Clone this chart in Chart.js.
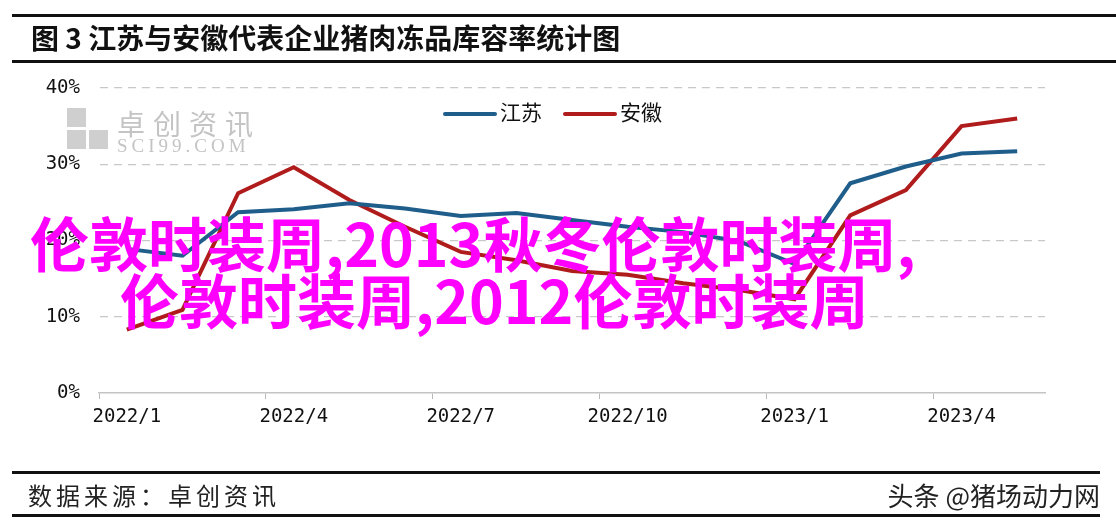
<!DOCTYPE html>
<html>
<head>
<meta charset="utf-8">
<script src="https://cdn.jsdelivr.net/npm/chart.js@4.4.1/dist/chart.umd.min.js"></script>
<style>
  html, body { margin: 0; padding: 0; background: #fff; }
  #wrap { position: relative; width: 1116px; height: 528px; overflow: hidden; background: #fff; }
  #chart { position: absolute; left: 0; top: 0; }
  .hline { position: absolute; left: 12px; right: 0; height: 3px; background: #111; }
  #titre { position: absolute; left: 31px; top: 20px; font: 700 28px "Noto Sans CJK SC"; color: #111; line-height: 34px; white-space: nowrap; }
  #fonte { position: absolute; left: 28px; top: 480px; font: 400 24px "Noto Sans CJK SC"; letter-spacing: 4px; color: #222; line-height: 30px; white-space: nowrap; }
  #autor { position: absolute; right: 16px; top: 479px; font: 400 26px "Noto Sans CJK SC"; color: #222; line-height: 32px; white-space: nowrap; }
  #legenda { position: absolute; top: 98px; left: 443px; font: 400 21px "Noto Sans CJK SC"; color: #111; line-height: 26px; white-space: nowrap; }
  #legenda span.l { display: inline-block; width: 54px; height: 4px; border-radius: 2px; vertical-align: middle; margin-right: 3px; }
  #marca { position: absolute; left: 67px; top: 108px; color: #c4c4c4; }
  #marca .q { position: absolute; width: 19px; height: 19px; background: #cfcfcf; }
  #marca .t1 { position: absolute; left: 50px; top: -5px; font: 400 28px "Noto Sans CJK SC"; letter-spacing: 8px; white-space: nowrap; }
  #marca .t2 { position: absolute; left: 50px; top: 27px; font: 400 19px "Liberation Serif"; letter-spacing: 4px; white-space: nowrap; }
  .rosa { position: absolute; font: 700 59px "Noto Sans CJK SC"; color: #ff00ff; line-height: 58px; white-space: nowrap; }
</style>
</head>
<body>
<div id="wrap">
  <canvas id="chart" width="1116" height="528"></canvas>
  <div class="hline" style="top:14px"></div>
  <div id="titre">图 3 江苏与安徽代表企业猪肉冻品库容率统计图</div>
  <div class="hline" style="top:60px"></div>
  <div id="marca">
    <div class="q" style="left:0;top:0"></div>
    <div class="q" style="left:0;top:22px"></div>
    <div class="q" style="left:22px;top:22px"></div>
    <div class="t1">卓创资讯</div>
    <div class="t2">SCI99.COM</div>
  </div>
  <div id="legenda"></div>
  <div class="rosa" style="left:30px;top:213px">伦敦时装周,2013秋冬伦敦时装周,</div>
  <div class="rosa" style="left:120px;top:270px">伦敦时装周,2012伦敦时装周</div>
  <div class="hline" style="top:471px; right:16px"></div>
  <div id="fonte">数据来源：卓创资讯</div>
  <div id="autor">头条 @猪场动力网</div>
  <div class="hline" style="top:514px; right:16px"></div>
</div>
<script>
// Dados (% de ocupação)
const meses = ["2022/1","2022/2","2022/3","2022/4","2022/5","2022/6","2022/7","2022/8","2022/9",
               "2022/10","2022/11","2022/12","2023/1","2023/2","2023/3","2023/4","2023/5"];
const jiangsu = [18.9, 18.0, 23.7, 24.1, 24.9, 24.2, 23.2, 23.6, 22.7, 21.8, 21.1, 19.9, 16.9, 27.5, 29.7, 31.4, 31.7];
const anhui   = [8.3, 10.9, 26.2, 29.6, 25.3, 21.8, 18.5, 17.4, 16.0, 15.5, 14.4, 13.5, 12.3, 23.3, 26.6, 35.0, 36.0];
const nomes = ["江苏", "安徽"];
const cores = ["#1f5d8a", "#b01c1c"];
const yTicks = [0, 10, 20, 30, 40];

// Legenda em HTML
const leg = document.getElementById('legenda');
leg.innerHTML = nomes.map((n, i) =>
    `<span class="l" style="background:${cores[i]}"></span>${n}` + (i === 0 ? '<span style="display:inline-block;width:21px"></span>' : '')
).join('');

const fonteEixo = { family: "DejaVu Sans Mono", size: 19 };

new Chart(document.getElementById('chart'), {
    type: 'line',
    data: {
        labels: meses,
        datasets: [
            { label: nomes[0], data: jiangsu, borderColor: cores[0], borderWidth: 4, pointRadius: 0, tension: 0 },
            { label: nomes[1], data: anhui, borderColor: cores[1], borderWidth: 4, pointRadius: 0, tension: 0 }
        ]
    },
    options: {
        responsive: false,
        animation: false,
        layout: { padding: { left: 0, right: 71, top: 88, bottom: 95 } },
        plugins: { legend: { display: false }, tooltip: { enabled: false } },
        scales: {
            x: {
                offset: true,
                grid: {
                    offset: true,
                    drawOnChartArea: false,
                    tickLength: 6,
                    color: ctx => (ctx.index % 3 === 0 ? '#b8b8b8' : 'rgba(0,0,0,0)')
                },
                border: { color: '#c4c4c4', width: 1.5 },
                ticks: {
                    autoSkip: false,
                    maxRotation: 0,
                    padding: 7,
                    color: '#111',
                    font: fonteEixo,
                    callback: (v, i) => (i % 3 === 0 ? meses[i] : '')
                },
                afterFit: s => { s.height = 40; }
            },
            y: {
                min: 0,
                max: 40,
                afterBuildTicks: s => { s.ticks = yTicks.map(v => ({ value: v })); },
                grid: {
                    drawTicks: false,
                    color: ctx => (ctx.tick && ctx.tick.value === 0 ? 'rgba(0,0,0,0)' : '#c8c8c8'),
                    lineWidth: 1.2
                },
                border: { display: true, color: 'rgba(0,0,0,0)', dash: [8, 6] },
                ticks: {
                    padding: 19,
                    color: '#111',
                    font: fonteEixo,
                    callback: v => v + '%'
                },
                afterFit: s => { s.width = 99; }
            }
        }
    }
});
</script>
</body>
</html>
